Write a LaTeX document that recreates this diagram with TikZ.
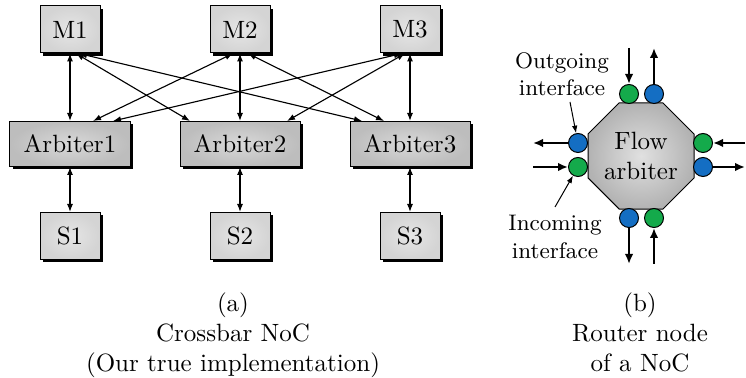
\documentclass[tikz,border=0pt]{standalone}
\usetikzlibrary{arrows.meta,shapes.geometric,shadows,calc}
\definecolor{ifgreen}{RGB}{20,170,75}
\definecolor{ifblue}{RGB}{20,110,195}
\begin{document}
\begin{tikzpicture}[x=0.4pt,y=-0.4pt,
  shbox/.style={draw=black, line width=0.4pt, inner sep=0pt, align=center,
    drop shadow={shadow xshift=1.2pt, shadow yshift=-1.2pt, opacity=1, fill=black}},
  mbox/.style={shbox, minimum width=24pt, minimum height=18.8pt,
    inner color=black!10, outer color=black!17},
  abox/.style={shbox, minimum width=48pt, minimum height=18pt,
    inner color=black!15, outer color=black!26},
  link/.style={{Latex[length=3.2pt,width=2.4pt]}-{Latex[length=3.2pt,width=2.4pt]}, line width=0.45pt},
  port/.style={circle, draw=black, line width=0.4pt, minimum size=7.6pt, inner sep=0pt},
  flow/.style={-{Latex[length=4pt,width=3.4pt]}, line width=0.9pt},
  pointer/.style={-{Latex[length=3pt,width=2.2pt]}, line width=0.4pt},
  lbl/.style={font=\small, align=center, inner sep=0pt},
  caption/.style={align=center, inner sep=0pt, anchor=north}
]
\useasboundingbox (0,0) rectangle (746,378);

% ---- crossbar: masters, arbiters, slaves
\foreach \i/\x in {1/70,2/240,3/410}{
  \node[mbox] (M\i) at (\x,29.5) {M\i};
  \node[abox] (A\i) at (\x,144) {Arbiter\i};
  \node[mbox] (S\i) at (\x,236) {S\i};
  \draw[link] (M\i.south) -- (A\i.north);
  \draw[link] (A\i.south) -- (S\i.north);
}
% crossing links between masters and arbiters
\draw[link] ($(M1.south)+(6,0)$) -- ($(A2.north)+(-50,0)$);
\draw[link] ($(M1.south)+(9,0)$) -- ($(A3.north)+(-48,0)$);
\draw[link] ($(M2.south)+(-7,0)$) -- ($(A1.north)+(23,0)$);
\draw[link] ($(M2.south)+(8,0)$) -- ($(A3.north)+(-26,0)$);
\draw[link] ($(M3.south)+(-8,0)$) -- ($(A1.north)+(43,0)$);
\draw[link] ($(M3.south)+(-5,0)$) -- ($(A2.north)+(47,0)$);

\node[caption] (capa) at (233,292) {(a)\\Crossbar NoC\\(Our true implementation)};

% ---- router node
\node[regular polygon, regular polygon sides=8, minimum size=45.9pt, inner sep=0pt,
  draw=black, line width=0.4pt, inner color=black!12, outer color=black!30,
  align=center] (fa) at (641,156) {Flow\\arbiter};

\node[port, fill=ifgreen] (tg) at (629,94) {};
\node[port, fill=ifblue]  (tb) at (654,94) {};
\node[port, fill=ifblue]  (lb) at (578,143) {};
\node[port, fill=ifgreen] (lg) at (578,167) {};
\node[port, fill=ifgreen] (rg) at (703,143) {};
\node[port, fill=ifblue]  (rb) at (703,167) {};
\node[port, fill=ifblue]  (bb) at (629,218) {};
\node[port, fill=ifgreen] (bg) at (654,218) {};

\coordinate (tgin) at (629,48);
\coordinate (tbout) at (654,48);
\coordinate (lbout) at (533,143);
\coordinate (lgin) at (533,167);
\coordinate (rgin) at (745,143);
\coordinate (rbout) at (745,167);
\coordinate (bbout) at (629,264);
\coordinate (bgin) at (654,264);

\draw[flow] (tgin) -- (tg.north);
\draw[flow] (tb.north) -- (tbout);
\draw[flow] (lb.west) -- (lbout);
\draw[flow] (lgin) -- (lg.west);
\draw[flow] (rgin) -- (rg.east);
\draw[flow] (rb.east) -- (rbout);
\draw[flow] (bb.south) -- (bbout);
\draw[flow] (bgin) -- (bg.south);

\node[lbl] (outl) at (562,74) {Outgoing\\interface};
\node[lbl] (inl) at (555,237) {Incoming\\interface};
\coordinate (outp) at (570,102);
\coordinate (inp) at (555,207);
\draw[pointer] (outp) -- (lb.101);
\draw[pointer] (inp) -- (lg.240);

\node[caption] (capb) at (640,292) {(b)\\Router node\\of a NoC};
\end{tikzpicture}
\end{document}
